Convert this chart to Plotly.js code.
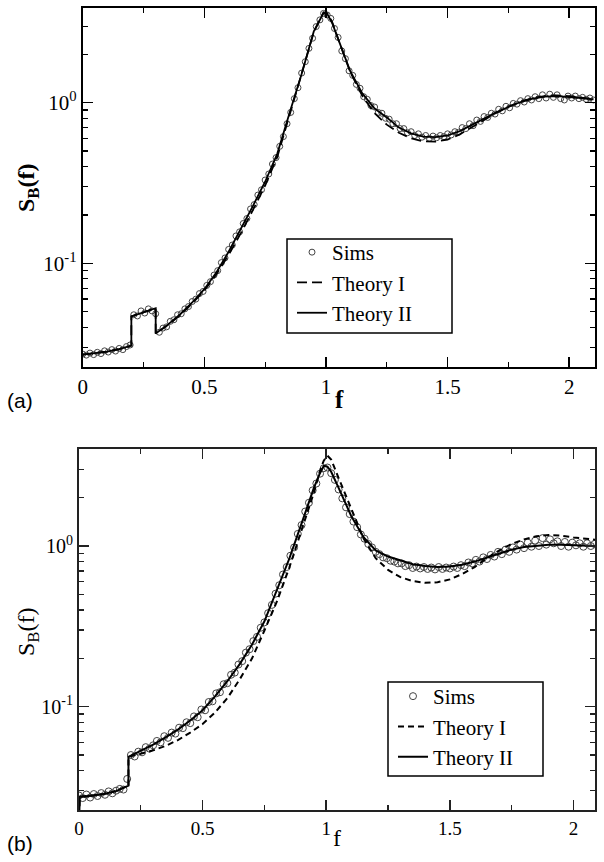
<!DOCTYPE html>
<html>
<head>
<meta charset="utf-8">
<script src="https://cdn.plot.ly/plotly-3.0.1.min.js"></script>
<style>html,body{margin:0;padding:0;background:#fff}#chart{width:604px;height:862px}</style>
</head>
<body>
<div id="chart"></div>
<script>
// ---------- DATA ----------
// Simulation sample grid (uniform frequency step)
const simStep = 0.015;
const fSims = Array.from({length: 141}, (_, i) => +(i * simStep).toFixed(3));

// Panel (a): simulations
const simsA = [
0.0272,0.0268,0.0276,0.0270,0.0279,0.0274,0.0285,0.0280,0.0290,0.0284,
0.0295,0.0290,0.0303,0.0310,0.0478,0.0470,0.0505,0.0490,0.0520,0.0505,
0.0485,0.0372,0.0395,0.0402,0.0435,0.0445,0.0478,0.0485,0.0520,0.0538,
0.0578,0.0598,0.0648,0.0668,0.0728,0.0768,0.0845,0.0900,0.101,0.108,
0.122,0.130,0.148,0.157,0.177,0.190,0.218,0.232,0.266,0.287,
0.330,0.360,0.415,0.455,0.535,0.615,0.74,0.87,1.06,1.24,
1.53,1.80,2.18,2.52,2.98,3.28,3.60,3.52,3.35,2.90,
2.55,2.10,1.88,1.58,1.48,1.30,1.23,1.09,1.05,0.96,
0.94,0.87,0.86,0.80,0.79,0.74,0.74,0.69,0.69,0.65,
0.66,0.625,0.64,0.61,0.625,0.60,0.62,0.605,0.625,0.615,
0.64,0.63,0.66,0.655,0.70,0.69,0.74,0.72,0.78,0.765,
0.82,0.81,0.86,0.85,0.91,0.89,0.95,0.93,0.99,0.98,
1.03,1.01,1.06,1.04,1.09,1.06,1.12,1.07,1.13,1.08,
1.12,1.06,1.04,1.10,1.07,1.10,1.06,1.08,1.05,1.07,
1.04];

// Panel (a): theory curves
const fTheoryA = [0,0.05,0.1,0.15,0.2,0.2,0.25,0.3,0.3,0.35,0.4,0.45,0.5,0.55,0.6,0.65,0.7,0.75,0.8,0.85,0.9,0.95,0.975,0.99,1.005,1.025,1.05,1.1,1.15,1.2,1.25,1.3,1.35,1.4,1.45,1.5,1.55,1.6,1.65,1.7,1.75,1.8,1.85,1.9,1.95,2.0,2.05,2.1];
const theoryIA = [0.0270,0.0275,0.0282,0.0292,0.0307,0.0467,0.0495,0.0525,0.0365,0.0412,0.0475,0.0562,0.0675,0.0855,0.1130,0.154,0.215,0.305,0.46,0.83,1.47,2.75,3.3,3.66,3.62,3.2,2.5,1.55,1.1,0.86,0.73,0.65,0.60,0.575,0.572,0.59,0.635,0.705,0.785,0.865,0.945,1.015,1.07,1.10,1.11,1.10,1.075,1.05];
const theoryIIA = [0.0270,0.0275,0.0282,0.0292,0.0307,0.0467,0.0495,0.0525,0.0365,0.0415,0.0480,0.0570,0.0690,0.0880,0.1180,0.163,0.228,0.322,0.482,0.86,1.51,2.78,3.3,3.62,3.58,3.15,2.5,1.57,1.14,0.92,0.81,0.70,0.645,0.615,0.61,0.625,0.665,0.73,0.80,0.87,0.94,1.01,1.06,1.09,1.10,1.09,1.07,1.05];

// Panel (b): simulations
const simsB = [
0.0280,0.0270,0.0284,0.0272,0.0286,0.0278,0.0290,0.0283,0.0297,0.0289,
0.0300,0.0308,0.0305,0.0355,0.0500,0.0490,0.0525,0.0520,0.0560,0.0548,
0.0575,0.0612,0.0600,0.0655,0.0640,0.0690,0.0680,0.0740,0.0735,0.0800,
0.0790,0.0870,0.0860,0.0960,0.0950,0.107,0.108,0.121,0.123,0.138,
0.140,0.158,0.163,0.183,0.192,0.217,0.228,0.256,0.272,0.310,
0.335,0.382,0.430,0.505,0.570,0.665,0.740,0.870,0.98,1.19,
1.35,1.64,1.86,2.22,2.45,2.82,3.05,3.08,2.84,2.58,
2.25,1.98,1.74,1.58,1.42,1.31,1.18,1.11,1.03,0.98,
0.92,0.89,0.85,0.84,0.81,0.80,0.78,0.78,0.75,0.76,
0.73,0.745,0.725,0.74,0.72,0.735,0.715,0.74,0.72,0.735,
0.725,0.745,0.73,0.76,0.75,0.79,0.78,0.82,0.80,0.85,
0.83,0.88,0.86,0.92,0.89,0.95,0.92,0.98,0.95,1.02,
0.97,1.05,0.99,1.08,1.00,1.12,1.02,1.10,1.04,1.07,
1.00,1.06,0.99,1.05,1.01,1.04,0.99,1.04,1.00,1.03,
0.99];

// Panel (b): theory curves
const fTheoryB = [0,0.003,0.05,0.1,0.15,0.2,0.2,0.25,0.3,0.35,0.4,0.45,0.5,0.55,0.6,0.65,0.7,0.75,0.8,0.85,0.9,0.95,0.975,0.99,1.005,1.02,1.05,1.1,1.15,1.2,1.25,1.3,1.35,1.4,1.45,1.5,1.55,1.6,1.65,1.7,1.75,1.8,1.85,1.9,1.95,2.0,2.05,2.1];
const theoryIB = [0.018,0.0275,0.0279,0.0286,0.0298,0.0323,0.0487,0.0510,0.0535,0.0570,0.0620,0.0690,0.0780,0.0920,0.113,0.148,0.200,0.298,0.45,0.73,1.25,2.15,2.95,3.4,3.65,3.45,2.65,1.7,1.12,0.84,0.71,0.64,0.605,0.59,0.595,0.62,0.67,0.74,0.84,0.94,1.03,1.10,1.15,1.17,1.16,1.13,1.11,1.09];
const theoryIIB = [0.018,0.0275,0.0279,0.0286,0.0298,0.0323,0.0487,0.0530,0.0580,0.0645,0.0720,0.0820,0.0950,0.1160,0.1440,0.184,0.244,0.340,0.53,0.83,1.38,2.3,2.85,3.15,3.12,2.9,2.3,1.55,1.14,0.94,0.86,0.81,0.77,0.75,0.74,0.745,0.765,0.80,0.85,0.90,0.95,0.985,1.005,1.018,1.02,1.015,1.008,1.0];

const legendNames = ['Sims', 'Theory I', 'Theory II'];
const xTickVals = [0, 0.5, 1, 1.5, 2];
const xTickText = ['0', '0.5', '1', '1.5', '2'];
const yTickVals = [0.1, 1];
const yTickText = ['10<sup>-1</sup>', '10<sup>0</sup>'];

// ---------- STYLE ----------
const serif = 'Liberation Serif';
const sans = 'Liberation Sans';
const xMinor = [0.25, 0.75, 1.25, 1.75];
const yMinor = [0.03,0.04,0.05,0.06,0.07,0.08,0.09,0.2,0.3,0.4,0.5,0.6,0.7,0.8,0.9,2,3,4];

function xAxis(dom, range, fs, col, anchor) {
  return {domain: dom, range: range, anchor: anchor, showgrid: false, zeroline: false,
    showline: true, linecolor: col, linewidth: 2, mirror: 'ticks',
    ticks: 'inside', ticklen: 10, tickwidth: 1.5, tickcolor: col,
    tickmode: 'array', tickvals: xTickVals, ticktext: xTickText,
    tickfont: {family: serif, size: fs, color: '#000'},
    minor: {tickmode: 'array', tickvals: xMinor, ticks: 'inside', ticklen: 5, tickwidth: 1.2, tickcolor: col, showgrid: false},
    automargin: false, fixedrange: true};
}
function yAxis(dom, range, fs, col, anchor) {
  return {domain: dom, type: 'log', range: range, anchor: anchor, showgrid: false, zeroline: false,
    showline: true, linecolor: col, linewidth: 2, mirror: 'ticks',
    ticks: 'inside', ticklen: 10, tickwidth: 1.5, tickcolor: col,
    tickmode: 'array', tickvals: yTickVals, ticktext: yTickText,
    tickfont: {family: serif, size: fs, color: '#000'},
    minor: {tickmode: 'array', tickvals: yMinor, ticks: 'inside', ticklen: 5, tickwidth: 1.2, tickcolor: col, showgrid: false},
    automargin: false, fixedrange: true};
}

const traces = [
  {x: fSims, y: simsA, name: legendNames[0], mode: 'markers', xaxis: 'x', yaxis: 'y', legend: 'legend',
   marker: {symbol: 'circle-open', size: 6, color: '#444', line: {width: 1, color: '#444'}}},
  {x: fTheoryA, y: theoryIA, name: legendNames[1], mode: 'lines', xaxis: 'x', yaxis: 'y', legend: 'legend',
   line: {color: '#000', width: 1.8, dash: '10px,5px'}},
  {x: fTheoryA, y: theoryIIA, name: legendNames[2], mode: 'lines', xaxis: 'x', yaxis: 'y', legend: 'legend',
   line: {color: '#000', width: 1.8}},
  {x: fSims, y: simsB, name: legendNames[0], mode: 'markers', xaxis: 'x2', yaxis: 'y2', legend: 'legend2',
   marker: {symbol: 'circle-open', size: 7, color: '#444', line: {width: 1, color: '#444'}}},
  {x: fTheoryB, y: theoryIB, name: legendNames[1], mode: 'lines', xaxis: 'x2', yaxis: 'y2', legend: 'legend2',
   line: {color: '#000', width: 2, dash: '6px,4px'}},
  {x: fTheoryB, y: theoryIIB, name: legendNames[2], mode: 'lines', xaxis: 'x2', yaxis: 'y2', legend: 'legend2',
   line: {color: '#000', width: 2}}
];

const W = 604, H = 862;
function legendBox(x0, y0, x1, y1) {
  return {type: 'rect', xref: 'paper', yref: 'paper', x0: x0 / W, x1: x1 / W, y0: 1 - y1 / H, y1: 1 - y0 / H,
    line: {color: '#000', width: 1.5}, fillcolor: '#fff', layer: 'above'};
}
const layout = {
  width: W, height: H, margin: {l: 0, r: 0, t: 0, b: 0},
  paper_bgcolor: '#fff', plot_bgcolor: '#fff',
  font: {family: serif, color: '#000'},
  xaxis: xAxis([82.7 / W, 595 / W], [0, 2.106], 21, '#000', 'y'),
  yaxis: yAxis([1 - 366.7 / H, 1 - 8.3 / H], [-1.644, 0.588], 21, '#000', 'x'),
  xaxis2: xAxis([79 / W, 595 / W], [0, 2.087], 19, '#222', 'y2'),
  yaxis2: yAxis([1 - 810 / H, 1 - 449.3 / H], [-1.643, 0.602], 20, '#222', 'x2'),
  shapes: [legendBox(287, 239, 452, 333), legendBox(388, 682, 543, 776)],
  legend: {x: 292 / W, y: 1 - 232 / H, xanchor: 'left', yanchor: 'top',
    bgcolor: 'rgba(0,0,0,0)', borderwidth: 0,
    font: {family: serif, size: 21, color: '#000'}, tracegroupgap: 0},
  legend2: {x: 393 / W, y: 1 - 676 / H, xanchor: 'left', yanchor: 'top',
    bgcolor: 'rgba(0,0,0,0)', borderwidth: 0,
    font: {family: serif, size: 21, color: '#000'}, tracegroupgap: 0},
  showlegend: true,
  annotations: [
    {text: '<b>f</b>', xref: 'paper', yref: 'paper', x: 339 / W, y: 1 - 399 / H, showarrow: false,
     xanchor: 'center', yanchor: 'middle', font: {family: serif, size: 25, color: '#000'}},
    {text: 'f', xref: 'paper', yref: 'paper', x: 337 / W, y: 1 - 838 / H, showarrow: false,
     xanchor: 'center', yanchor: 'middle', font: {family: serif, size: 24, color: '#000'}},
    {text: '<b>S<sub>B</sub>(f)</b>', xref: 'paper', yref: 'paper', x: 28 / W, y: 1 - 188 / H, showarrow: false,
     textangle: -90, xanchor: 'center', yanchor: 'middle', font: {family: serif, size: 24, color: '#000'}},
    {text: 'S<sub>B</sub>(f)', xref: 'paper', yref: 'paper', x: 28 / W, y: 1 - 632 / H, showarrow: false,
     textangle: -90, xanchor: 'center', yanchor: 'middle', font: {family: serif, size: 24, color: '#000'}},
    {text: '(a)', xref: 'paper', yref: 'paper', x: 20 / W, y: 1 - 400 / H, showarrow: false,
     xanchor: 'center', yanchor: 'middle', font: {family: sans, size: 21, color: '#000'}},
    {text: '(b)', xref: 'paper', yref: 'paper', x: 20 / W, y: 1 - 843 / H, showarrow: false,
     xanchor: 'center', yanchor: 'middle', font: {family: sans, size: 21, color: '#000'}}
  ]
};

Plotly.newPlot('chart', traces, layout, {staticPlot: true, displayModeBar: false});
</script>
</body>
</html>
